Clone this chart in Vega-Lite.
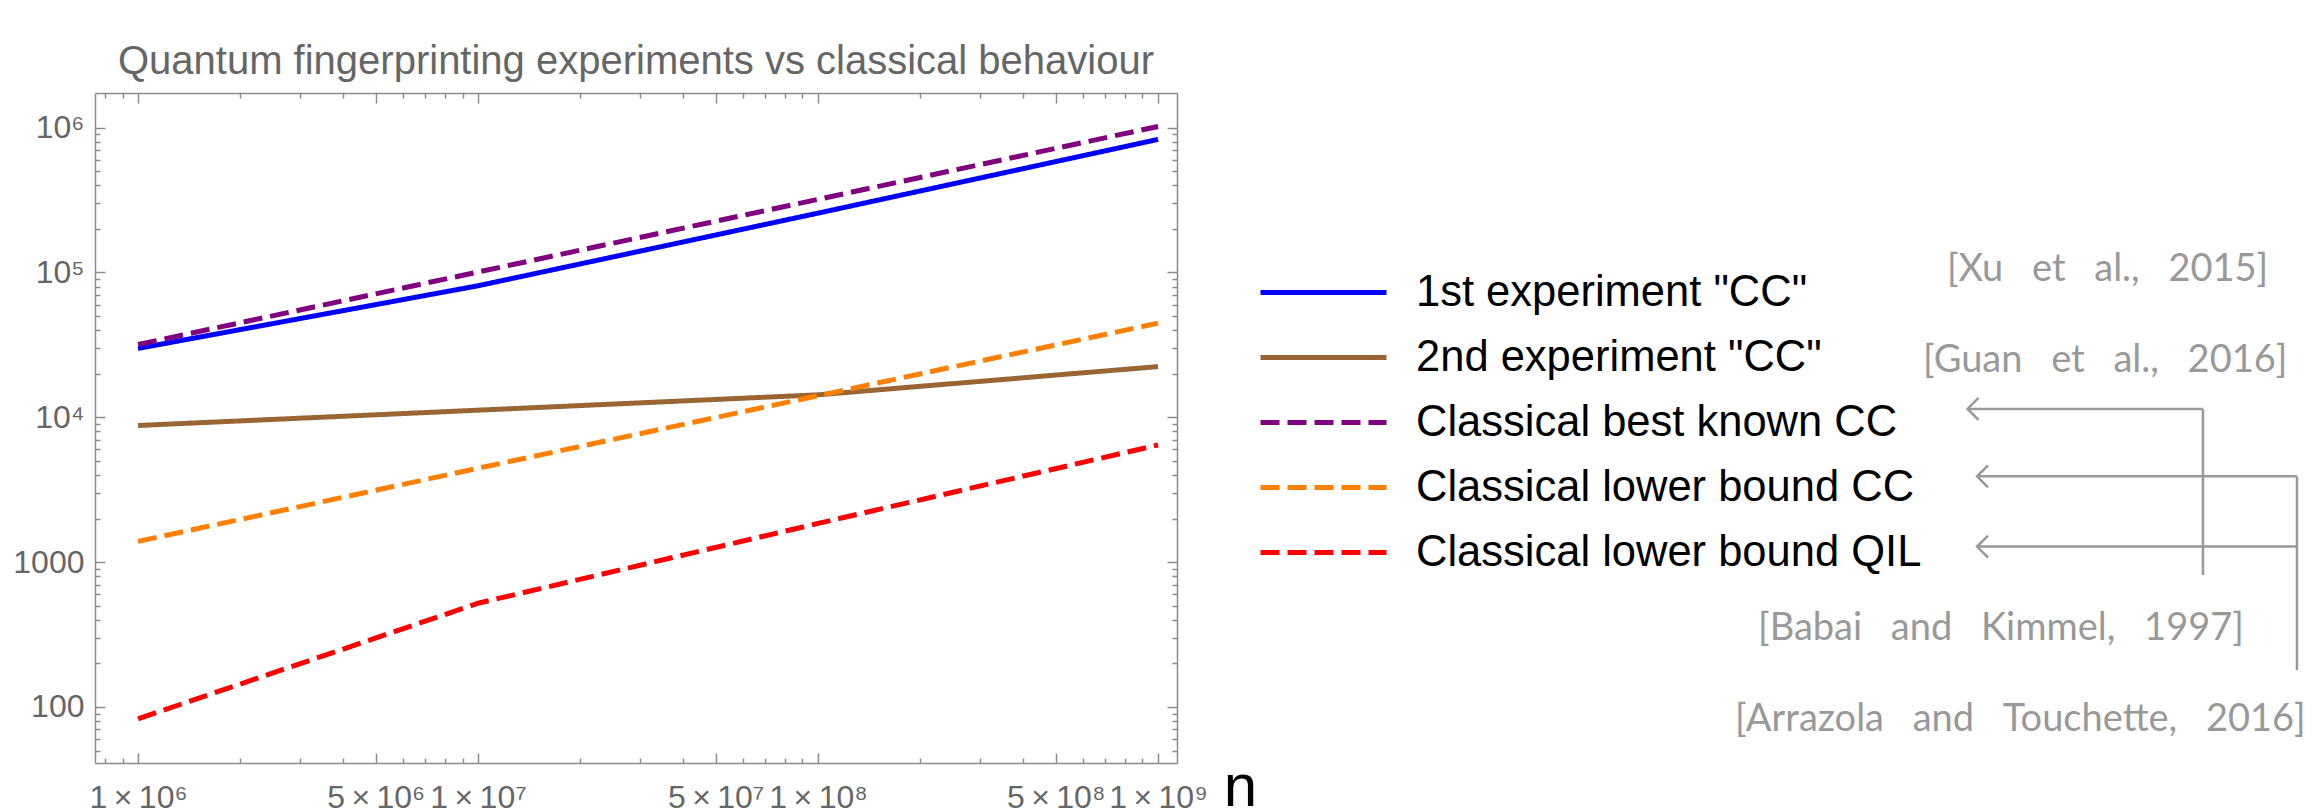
{
  "$schema": "https://vega.github.io/schema/vega-lite/v6.json",
  "width": 1082,
  "height": 670,
  "autosize": {"type": "none"},
  "padding": {"left": 95, "top": 93, "right": 1128, "bottom": 46},
  "background": "white",
  "config": {"view": {"stroke": null}, "font": "Liberation Sans"},
  "title": {"text": "Quantum fingerprinting experiments vs classical behaviour", "anchor": "middle", "frame": "group", "font": "Liberation Sans", "fontSize": 40, "fontWeight": "normal", "color": "#666666", "baseline": "alphabetic", "offset": -22},
  "data": {"values": [
    {"n": 1000000, "v": 29900, "series": "1st experiment \"CC\""},
    {"n": 10000000, "v": 81000, "series": "1st experiment \"CC\""},
    {"n": 100000000, "v": 257000, "series": "1st experiment \"CC\""},
    {"n": 1000000000, "v": 830000, "series": "1st experiment \"CC\""},
    {"n": 1000000, "v": 8780, "series": "2nd experiment \"CC\""},
    {"n": 10000000, "v": 11200, "series": "2nd experiment \"CC\""},
    {"n": 100000000, "v": 14300, "series": "2nd experiment \"CC\""},
    {"n": 1000000000, "v": 22400, "series": "2nd experiment \"CC\""},
    {"n": 1000000, "v": 31800, "series": "Classical best known CC"},
    {"n": 10000000, "v": 100800, "series": "Classical best known CC"},
    {"n": 100000000, "v": 320000, "series": "Classical best known CC"},
    {"n": 1000000000, "v": 1020000, "series": "Classical best known CC"},
    {"n": 1000000, "v": 1390, "series": "Classical lower bound CC"},
    {"n": 10000000, "v": 4450, "series": "Classical lower bound CC"},
    {"n": 100000000, "v": 14100, "series": "Classical lower bound CC"},
    {"n": 1000000000, "v": 44700, "series": "Classical lower bound CC"},
    {"n": 1000000, "v": 82.8, "series": "Classical lower bound QIL"},
    {"n": 10000000, "v": 520, "series": "Classical lower bound QIL"},
    {"n": 100000000, "v": 1850, "series": "Classical lower bound QIL"},
    {"n": 1000000000, "v": 6440, "series": "Classical lower bound QIL"}
  ]},
  "resolve": {"scale": {"x": "independent", "y": "independent"}},
  "layer": [
    {
      "mark": {"type": "line", "strokeWidth": 5, "strokeCap": "butt"},
      "encoding": {
        "x": {"field": "n", "type": "quantitative",
          "scale": {"type": "log", "domain": [747000, 1137000000], "nice": false},
          "axis": {"orient": "bottom", "values": [1000000, 5000000, 10000000, 50000000, 100000000, 500000000, 1000000000],
            "labelExpr": "round(datum.value / pow(10, floor(log(datum.value) / LN10 + 0.000001))) + '\u2009×\u2009' + '10' + ['⁰','¹','²','³','⁴','⁵','⁶','⁷','⁸','⁹'][floor(log(datum.value) / LN10 + 0.000001)]",
            "ticks": false, "grid": false, "domain": true, "domainColor": "#8c8c8c", "domainWidth": 1.5,
            "labelFont": "Liberation Sans", "labelFontSize": 32, "labelColor": "#666666", "labelPadding": 19, "labelBaseline": "top",
            "labelOverlap": false, "labelFlush": false, "labelBound": false,
            "title": "n", "titleX": 1145, "titleY": 42, "titleAlign": "center", "titleBaseline": "alphabetic", "titleAngle": 0,
            "titleFont": "Liberation Sans", "titleFontSize": 60, "titleFontWeight": "normal", "titleColor": "#000000"}},
        "y": {"field": "v", "type": "quantitative",
          "scale": {"type": "log", "domain": [41, 1736000], "nice": false},
          "axis": {"orient": "left", "values": [100, 1000, 10000, 100000, 1000000],
            "labelExpr": "datum.value < 5000 ? format(datum.value, 'd') : '10' + ['⁴','⁵','⁶'][round(log(datum.value) / LN10) - 4]",
            "ticks": false, "grid": false, "domain": true, "domainColor": "#8c8c8c", "domainWidth": 1.5,
            "labelFont": "Liberation Sans", "labelFontSize": 32, "labelColor": "#666666", "labelPadding": 11,
            "labelOverlap": false, "labelFlush": false, "labelBound": false, "title": null}},
        "color": {"field": "series", "type": "nominal",
          "scale": {"domain": ["1st experiment \"CC\"", "2nd experiment \"CC\"", "Classical best known CC", "Classical lower bound CC", "Classical lower bound QIL"],
                    "range": ["#0000ff", "#996633", "#800080", "#ff8000", "#ff0000"]},
          "legend": {"orient": "none", "legendX": 1165, "legendY": 176, "title": null, "symbolType": "M-3,0H3", "symbolSize": 1764, "symbolStrokeWidth": 5,
            "labelFont": "Liberation Sans", "labelFontSize": 43.5, "labelColor": "#000000", "rowPadding": 20, "symbolOffset": 40, "labelOffset": 69, "padding": 0, "labelLimit": 1000}},
        "strokeDash": {"field": "series", "type": "nominal",
          "scale": {"domain": ["1st experiment \"CC\"", "2nd experiment \"CC\"", "Classical best known CC", "Classical lower bound CC", "Classical lower bound QIL"],
                    "range": [[1, 0], [1, 0], [19, 8], [19, 8], [19, 8]]},
          "legend": {"orient": "none", "legendX": 1165, "legendY": 176, "title": null, "symbolType": "M-3,0H3", "symbolSize": 1764, "symbolStrokeWidth": 5,
            "labelFont": "Liberation Sans", "labelFontSize": 43.5, "labelColor": "#000000", "rowPadding": 20, "symbolOffset": 40, "labelOffset": 69, "padding": 0, "labelLimit": 1000}}
      }
    },
    {
      "mark": {"type": "point", "opacity": 0},
      "encoding": {
        "x": {"field": "n", "type": "quantitative",
          "scale": {"type": "log", "domain": [747000, 1137000000], "nice": false},
          "axis": {"orient": "top", "offset": -670, "labels": false, "domain": false, "grid": false, "title": null,
            "values": [800000, 900000, 1000000, 2000000, 3000000, 4000000, 5000000, 6000000, 7000000, 8000000, 9000000, 10000000, 20000000, 30000000, 40000000, 50000000, 60000000, 70000000, 80000000, 90000000, 100000000, 200000000, 300000000, 400000000, 500000000, 600000000, 700000000, 800000000, 900000000, 1000000000],
            "tickColor": "#8c8c8c", "tickWidth": 1.5,
            "tickSize": {"condition": {"test": "indexof([1000000,5000000,10000000,50000000,100000000,500000000,1000000000], datum.value) >= 0", "value": 10}, "value": 5}}},
        "y": {"field": "v", "type": "quantitative",
          "scale": {"type": "log", "domain": [41, 1736000], "nice": false},
          "axis": {"orient": "right", "offset": -1082, "labels": false, "domain": false, "grid": false, "title": null,
            "values": [50, 60, 70, 80, 90, 100, 200, 300, 400, 500, 600, 700, 800, 900, 1000, 2000, 3000, 4000, 5000, 6000, 7000, 8000, 9000, 10000, 20000, 30000, 40000, 50000, 60000, 70000, 80000, 90000, 100000, 200000, 300000, 400000, 500000, 600000, 700000, 800000, 900000, 1000000],
            "tickColor": "#8c8c8c", "tickWidth": 1.5,
            "tickSize": {"condition": {"test": "abs(log(datum.value) / LN10 - round(log(datum.value) / LN10)) < 0.000001", "value": 10}, "value": 5}}}
      }
    },
    {
      "mark": {"type": "point", "opacity": 0},
      "encoding": {
        "x": {"field": "n", "type": "quantitative",
          "scale": {"type": "log", "domain": [747000, 1137000000], "nice": false},
          "axis": {"orient": "bottom", "offset": -670, "labels": false, "domain": true, "domainColor": "#8c8c8c", "domainWidth": 1.5, "grid": false, "title": null,
            "values": [800000, 900000, 1000000, 2000000, 3000000, 4000000, 5000000, 6000000, 7000000, 8000000, 9000000, 10000000, 20000000, 30000000, 40000000, 50000000, 60000000, 70000000, 80000000, 90000000, 100000000, 200000000, 300000000, 400000000, 500000000, 600000000, 700000000, 800000000, 900000000, 1000000000],
            "tickColor": "#8c8c8c", "tickWidth": 1.5,
            "tickSize": {"condition": {"test": "indexof([1000000,5000000,10000000,50000000,100000000,500000000,1000000000], datum.value) >= 0", "value": 10}, "value": 5}}},
        "y": {"field": "v", "type": "quantitative",
          "scale": {"type": "log", "domain": [41, 1736000], "nice": false},
          "axis": {"orient": "left", "offset": -1082, "labels": false, "domain": true, "domainColor": "#8c8c8c", "domainWidth": 1.5, "grid": false, "title": null,
            "values": [50, 60, 70, 80, 90, 100, 200, 300, 400, 500, 600, 700, 800, 900, 1000, 2000, 3000, 4000, 5000, 6000, 7000, 8000, 9000, 10000, 20000, 30000, 40000, 50000, 60000, 70000, 80000, 90000, 100000, 200000, 300000, 400000, 500000, 600000, 700000, 800000, 900000, 1000000],
            "tickColor": "#8c8c8c", "tickWidth": 1.5,
            "tickSize": {"condition": {"test": "abs(log(datum.value) / LN10 - round(log(datum.value) / LN10)) < 0.000001", "value": 10}, "value": 5}}}
      }
    },
    {
      "data": {"values": [
        {"x1": 173.06, "x2": 194.82, "y1": 47.16, "y2": 47.16},
        {"x1": 194.82, "x2": 194.82, "y1": 47.16, "y2": 71.94},
        {"x1": 173.94, "x2": 203.51, "y1": 57.21, "y2": 57.21},
        {"x1": 173.94, "x2": 203.51, "y1": 67.69, "y2": 67.69},
        {"x1": 203.51, "x2": 203.51, "y1": 57.21, "y2": 86.12}
      ]},
      "mark": {"type": "rule", "color": "#999999", "strokeWidth": 2.5},
      "encoding": {
        "x": {"field": "x1", "type": "quantitative", "scale": {"domain": [0, 100], "nice": false, "zero": false}, "axis": null},
        "x2": {"field": "x2"},
        "y": {"field": "y1", "type": "quantitative", "scale": {"domain": [0, 100], "nice": false, "zero": false, "reverse": true}, "axis": null},
        "y2": {"field": "y2"}
      }
    },
    {
      "data": {"values": [
        {"x": 173.06, "y": 47.16},
        {"x": 173.94, "y": 57.21},
        {"x": 173.94, "y": 67.69}
      ]},
      "mark": {"type": "point", "shape": "M1,-1L0,0L1,1", "size": 484, "filled": false, "stroke": "#999999", "strokeWidth": 2.5, "opacity": 1},
      "encoding": {
        "x": {"field": "x", "type": "quantitative", "scale": {"domain": [0, 100], "nice": false, "zero": false}, "axis": null},
        "y": {"field": "y", "type": "quantitative", "scale": {"domain": [0, 100], "nice": false, "zero": false, "reverse": true}, "axis": null}
      }
    },
    {
      "data": {"values": [
        {"x": 171.16, "y": 28.0, "label": "[Xu \u2002et \u2002al., \u20022015]"},
        {"x": 168.95, "y": 41.6, "label": "[Guan \u2002et \u2002al., \u20022016]"},
        {"x": 153.70, "y": 81.58, "label": "[Babai \u2002and \u2002Kimmel, \u20021997]"},
        {"x": 151.57, "y": 95.28, "label": "[Arrazola \u2002and \u2002Touchette, \u20022016]"}
      ]},
      "mark": {"type": "text", "align": "left", "baseline": "alphabetic", "font": "Lato", "fontSize": 38, "color": "#999999"},
      "encoding": {
        "x": {"field": "x", "type": "quantitative", "scale": {"domain": [0, 100], "nice": false, "zero": false}, "axis": null},
        "y": {"field": "y", "type": "quantitative", "scale": {"domain": [0, 100], "nice": false, "zero": false, "reverse": true}, "axis": null},
        "text": {"field": "label"}
      }
    }
  ]
}
